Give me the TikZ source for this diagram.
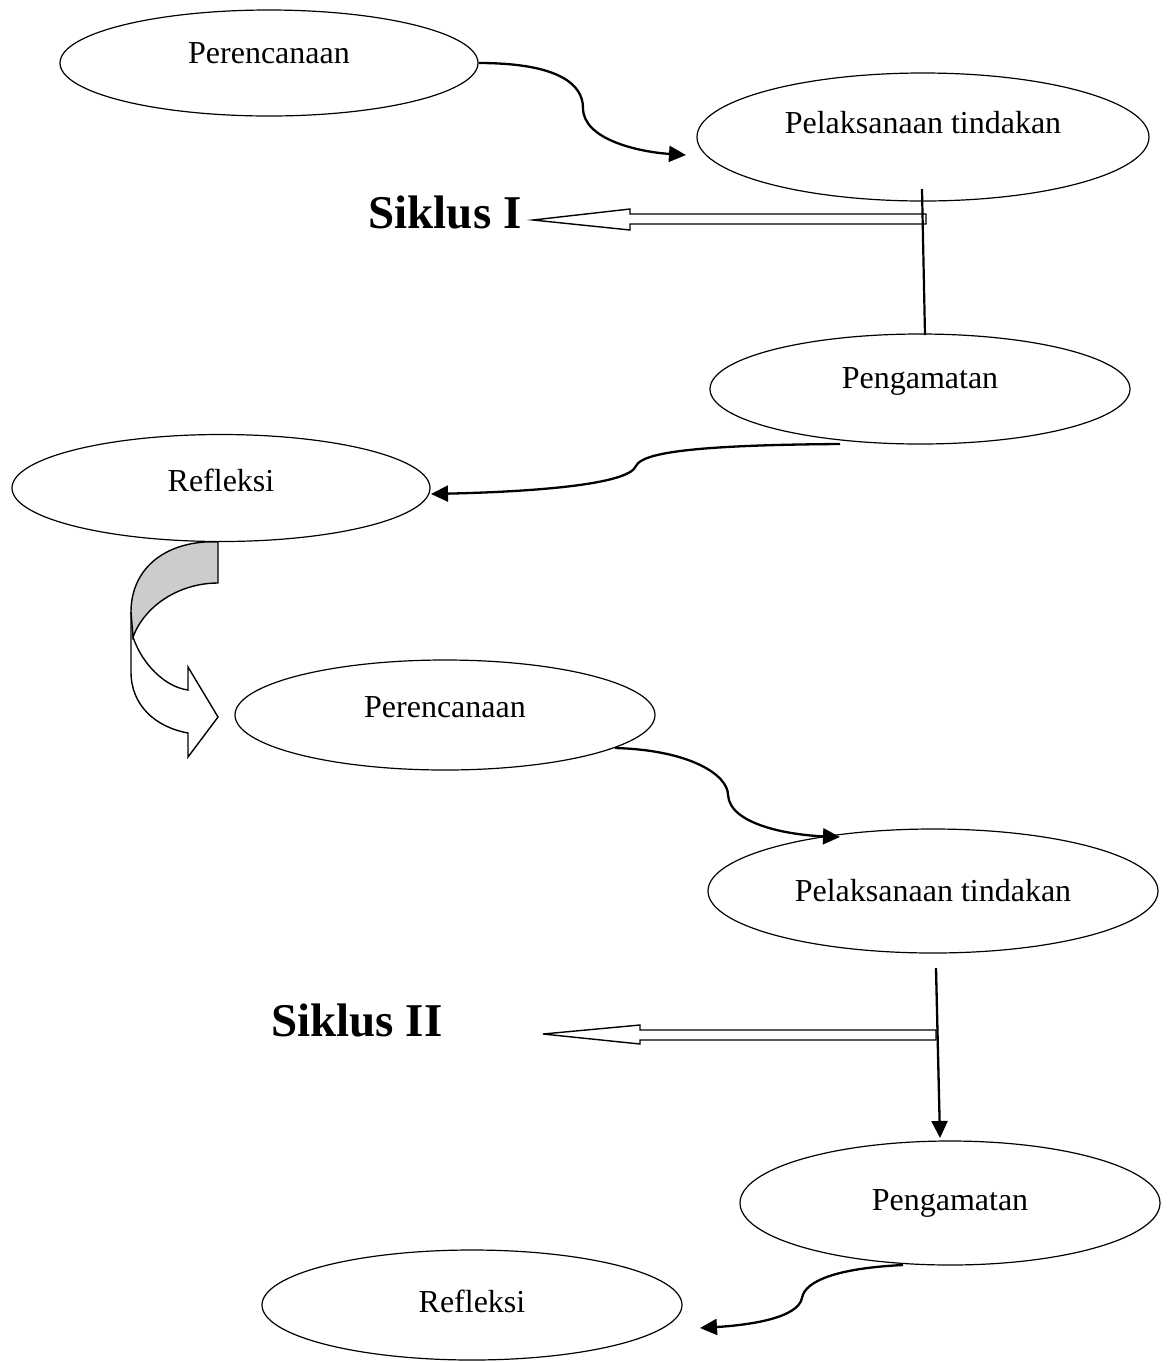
\documentclass[tikz,border=0pt]{standalone}
\usepackage{fontspec}
\setmainfont{Liberation Serif}
\usetikzlibrary{shapes.geometric,arrows.meta}
\begin{document}
\begin{tikzpicture}[x=0.5pt,y=-0.5pt,
  stage/.style={ellipse,draw,line width=0.6pt,inner sep=0pt},
  lbl/.style={font=\fontsize{16}{19}\selectfont},
  flow/.style={line width=1.15pt,-{Triangle[length=8.5pt,width=8pt]}},
  plain/.style={line width=1.1pt},
  hollow/.style={draw,line width=0.7pt,fill=white},
  band/.style={draw,line width=0.7pt},
  cyc/.style={font=\fontsize{23.5}{28}\selectfont\bfseries}]
\useasboundingbox (0,0) rectangle (1168,1362);

% ellipses
\node[stage,minimum width=209pt,minimum height=53pt,label={[lbl,yshift=5pt]center:Perencanaan}] (p1) at (269,63) {};
\node[stage,minimum width=226pt,minimum height=64pt,label={[lbl,yshift=7pt]center:Pelaksanaan tindakan}] (t1) at (923,137) {};
\node[stage,minimum width=210pt,minimum height=55pt,label={[lbl,yshift=4pt]center:Pengamatan}] (g1) at (920,389) {};
\node[stage,minimum width=209pt,minimum height=53.5pt,label={[lbl,yshift=4pt]center:Refleksi}] (r1) at (221,488) {};
\node[stage,minimum width=210pt,minimum height=55pt,label={[lbl,yshift=4pt]center:Perencanaan}] (p2) at (445,715) {};
\node[stage,minimum width=225pt,minimum height=62pt,label={[lbl,yshift=0pt]center:Pelaksanaan tindakan}] (t2) at (933,891) {};
\node[stage,minimum width=210pt,minimum height=62pt,label={[lbl,yshift=0pt]center:Pengamatan}] (g2) at (950,1203) {};
\node[stage,minimum width=210pt,minimum height=55pt,label={[lbl,yshift=2pt]center:Refleksi}] (r2) at (472,1305) {};

% cycle labels
\node[cyc] (s1) at (445,212) {Siklus I};
\node[cyc] (s2) at (357,1020) {Siklus II};

% free ends
\coordinate (a1) at (686,155);
\coordinate (v1top) at (922,189);
\coordinate (v1bot) at (925,335);
\coordinate (d1s) at (840,444);
\coordinate (d1e) at (431,494);
\coordinate (f1s) at (615,748);
\coordinate (f1e) at (840,837);
\coordinate (v2top) at (936,968);
\coordinate (v2bot) at (940,1138);
\coordinate (i1s) at (903,1265);
\coordinate (i1e) at (700,1328);

% Perencanaan -> Pelaksanaan (cycle I)
\draw[flow] (p1.east) .. controls (560,63) and (583,85) .. (583,108)
  .. controls (583,140) and (640,152) .. (a1);

% hollow arrow Siklus I
\draw[hollow] (926,214) -- (630,214) -- (630,209) -- (533,220) -- (630,230) -- (630,224) -- (926,224) -- cycle;
% vertical line
\draw[plain] (v1top) -- (v1bot);

% Pengamatan -> Refleksi
\draw[flow] (d1s) .. controls (700,445) and (642,452) .. (636,466)
  .. controls (628,486) and (520,492) .. (d1e);

% curved block arrow
\filldraw[band,fill=black!20] (218,542) -- (218,583) .. controls (180,583) and (145,605) .. (133,637)
  -- (131,612) .. controls (131,572) and (160,545) .. (205,542) -- cycle;
\draw[band] (133,637) .. controls (142,664) and (165,687) .. (188,690) -- (188,667) -- (218,717)
  -- (188,757) -- (188,733) .. controls (155,727) and (131,705) .. (131,672) -- (131,612);

% Perencanaan -> Pelaksanaan (cycle II)
\draw[flow] (f1s) .. controls (690,750) and (728,775) .. (728,795)
  .. controls (730,825) and (790,835) .. (f1e);

% hollow arrow Siklus II
\draw[hollow] (936,1030) -- (640,1030) -- (640,1025) -- (543,1034) -- (640,1044) -- (640,1040) -- (936,1040) -- cycle;
% vertical arrow
\draw[flow] (v2top) -- (v2bot);

% Pengamatan -> Refleksi (cycle II)
\draw[flow] (i1s) .. controls (840,1268) and (805,1280) .. (802,1298)
  .. controls (798,1318) and (750,1325) .. (i1e);
\end{tikzpicture}
\end{document}
